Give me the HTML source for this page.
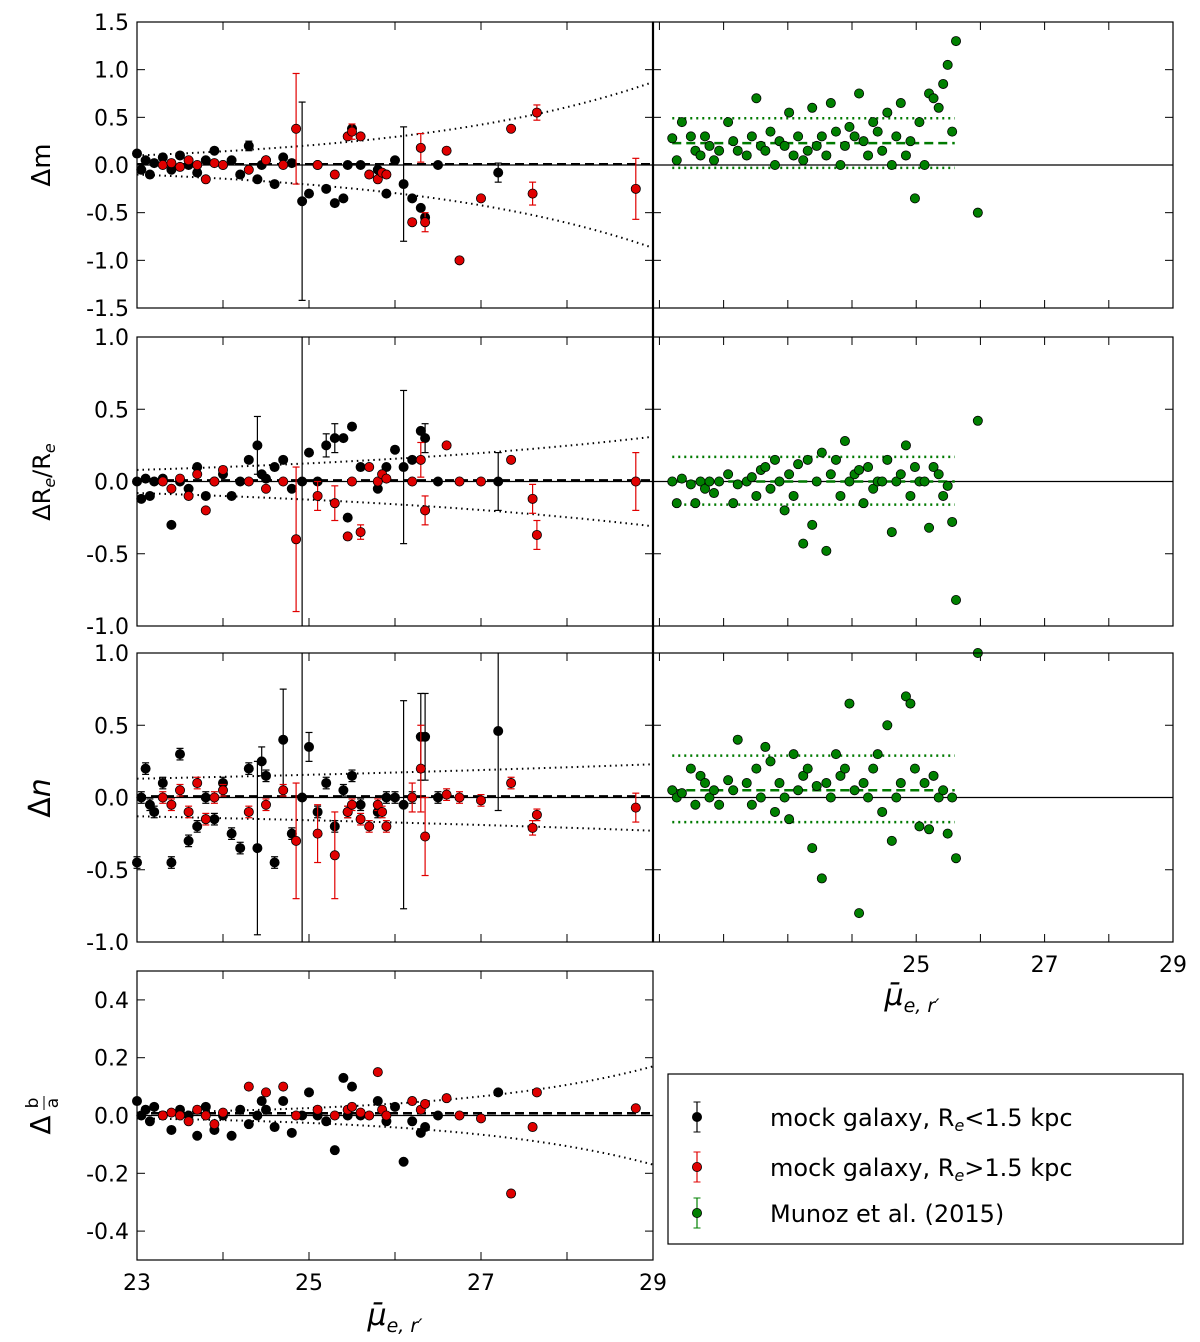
<!DOCTYPE html>
<html><head><meta charset="utf-8"><style>
html,body{margin:0;padding:0;background:#fff}
svg{display:block}
text{font-family:"DejaVu Sans","Liberation Sans",sans-serif}
</style></head><body>
<svg id="chart" width="1200" height="1342" viewBox="0 0 1200 1342" xmlns="http://www.w3.org/2000/svg"></svg>
<script>
// ---- data: black points (mock galaxy, Re<1.5 kpc) ----
const bx = [23.0,23.05,23.1,23.15,23.2,23.3,23.4,23.5,23.6,23.7,23.8,23.9,24.0,24.1,24.2,24.3,24.4,24.45,24.5,24.6,24.7,24.8,24.92,25.0,25.1,25.2,25.3,25.4,25.5,25.6,25.8,25.9,26.0,26.1,26.2,26.3,26.35,26.5,27.2,25.45];
const dmB = [0.12,-0.05,0.05,-0.1,0.02,0.08,-0.05,0.1,0.0,-0.08,0.05,0.15,0.0,0.05,-0.1,0.2,-0.15,0.0,0.05,-0.2,0.08,0.02,-0.38,-0.3,0.0,-0.25,-0.4,-0.35,0.38,0.0,-0.05,-0.3,0.05,-0.2,-0.35,-0.45,-0.55,0.0,-0.08,0.0];
const dmBe = [0.03,0.03,0.03,0.03,0.03,0.03,0.03,0.03,0.03,0.03,0.03,0.03,0.03,0.03,0.03,0.05,0.03,0.03,0.03,0.03,0.03,0.03,1.04,0.03,0.03,0.03,0.03,0.03,0.03,0.03,0.03,0.03,0.03,0.6,0.03,0.03,0.03,0.03,0.1,0.03];
const drB = [0.0,-0.12,0.02,-0.1,0.0,0.02,-0.3,0.0,-0.05,0.1,-0.1,0.0,0.05,-0.1,0.0,0.15,0.25,0.05,0.02,0.1,0.15,-0.05,0.0,0.2,0.0,0.25,0.3,0.3,0.38,0.1,-0.05,0.1,0.22,0.1,0.15,0.35,0.3,0.0,0.0,-0.25];
const drBe = [0.03,0.03,0.03,0.03,0.03,0.03,0.03,0.03,0.03,0.03,0.03,0.03,0.03,0.03,0.03,0.03,0.2,0.03,0.03,0.03,0.03,0.03,1.4,0.03,0.03,0.08,0.1,0.03,0.03,0.03,0.03,0.03,0.03,0.53,0.03,0.03,0.1,0.03,0.2,0.03];
const dnB = [-0.45,0.0,0.2,-0.05,-0.1,0.1,-0.45,0.3,-0.3,-0.2,0.0,-0.15,0.1,-0.25,-0.35,0.2,-0.35,0.25,0.15,-0.45,0.4,-0.25,0.0,0.35,-0.1,0.1,-0.2,0.05,0.15,-0.05,-0.1,0.0,0.0,-0.05,0.0,0.42,0.42,0.0,0.46,-0.1];
const dnBe = [0.04,0.04,0.04,0.04,0.04,0.04,0.04,0.04,0.04,0.04,0.04,0.04,0.04,0.04,0.04,0.04,0.6,0.1,0.04,0.04,0.35,0.04,1.4,0.1,0.04,0.04,0.04,0.04,0.04,0.04,0.04,0.04,0.04,0.72,0.04,0.3,0.3,0.04,0.55,0.04];
const dbB = [0.05,0.0,0.02,-0.02,0.03,0.0,-0.05,0.02,0.0,-0.07,0.03,-0.05,0.0,-0.07,0.02,-0.03,0.0,0.05,0.02,-0.04,0.05,-0.06,0.0,0.08,0.0,-0.02,-0.12,0.13,0.1,0.0,0.05,-0.02,0.03,-0.16,-0.02,-0.06,-0.04,0.0,0.08,0.0];
// ---- red points (mock galaxy, Re>1.5 kpc) ----
const rx = [23.3,23.4,23.5,23.6,23.7,23.8,23.9,24.0,24.3,24.5,24.7,24.85,25.1,25.3,25.45,25.5,25.6,25.7,25.8,25.85,25.9,26.2,26.3,26.35,26.6,26.75,27.0,27.35,27.6,27.65,28.8];
const dmR = [0.0,0.02,-0.02,0.05,0.0,-0.15,0.02,0.0,-0.05,0.05,0.0,0.38,0.0,-0.1,0.3,0.35,0.3,-0.1,-0.15,-0.08,-0.1,-0.6,0.18,-0.6,0.15,-1.0,-0.35,0.38,-0.3,0.55,-0.25];
const dmRe = [0.03,0.03,0.03,0.03,0.03,0.03,0.03,0.03,0.03,0.03,0.03,0.58,0.03,0.03,0.03,0.08,0.03,0.03,0.03,0.03,0.03,0.03,0.15,0.1,0.03,0.03,0.03,0.03,0.12,0.08,0.32];
const drR = [0.0,-0.05,0.02,-0.1,0.05,-0.2,0.0,0.08,0.0,-0.05,0.0,-0.4,-0.1,-0.15,-0.38,0.0,-0.35,0.1,0.0,0.05,0.02,0.0,0.15,-0.2,0.25,0.0,0.0,0.15,-0.12,-0.37,0.0];
const drRe = [0.03,0.03,0.03,0.03,0.03,0.03,0.03,0.03,0.03,0.03,0.03,0.5,0.1,0.12,0.03,0.03,0.05,0.03,0.03,0.03,0.03,0.03,0.12,0.1,0.03,0.03,0.03,0.03,0.1,0.1,0.2];
const dnR = [0.0,-0.05,0.05,-0.1,0.1,-0.15,0.0,0.05,-0.1,-0.05,0.05,-0.3,-0.25,-0.4,-0.1,-0.05,-0.15,-0.2,-0.05,-0.1,-0.2,0.0,0.2,-0.27,0.02,0.0,-0.02,0.1,-0.21,-0.12,-0.07];
const dnRe = [0.04,0.04,0.04,0.04,0.04,0.04,0.04,0.04,0.04,0.04,0.04,0.4,0.2,0.3,0.04,0.04,0.04,0.04,0.04,0.04,0.04,0.1,0.3,0.27,0.04,0.04,0.04,0.04,0.05,0.04,0.1];
const dbR = [0.0,0.01,0.0,-0.02,0.02,0.0,-0.03,0.01,0.1,0.08,0.1,0.0,0.02,0.0,0.02,0.03,0.01,0.0,0.15,0.02,0.0,0.05,0.02,0.04,0.06,0.0,-0.01,-0.27,-0.04,0.08,0.025];
// ---- green points (Munoz et al. 2015) ----
const gx = [21.2,21.27,21.35,21.49,21.56,21.64,21.71,21.78,21.85,21.93,22.07,22.15,22.22,22.36,22.44,22.51,22.58,22.65,22.73,22.8,22.87,22.95,23.02,23.09,23.16,23.24,23.31,23.38,23.45,23.53,23.6,23.67,23.75,23.82,23.89,23.96,24.04,24.11,24.18,24.25,24.33,24.4,24.47,24.55,24.62,24.69,24.76,24.84,24.91,24.98,25.05,25.13,25.2,25.27,25.35,25.42,25.49,25.56,25.96,25.62];
const dmG = [0.28,0.05,0.45,0.3,0.15,0.1,0.3,0.2,0.05,0.15,0.45,0.25,0.15,0.1,0.3,0.7,0.2,0.15,0.35,0.0,0.25,0.2,0.55,0.1,0.3,0.05,0.15,0.6,0.2,0.3,0.1,0.65,0.35,0.0,0.2,0.4,0.3,0.75,0.25,0.1,0.45,0.35,0.15,0.55,0.0,0.3,0.65,0.1,0.25,-0.35,0.45,0.0,0.75,0.7,0.6,0.85,1.05,0.35,-0.5,1.3];
const drG = [0.0,-0.15,0.02,-0.02,-0.15,0.0,-0.05,0.0,-0.08,0.0,0.05,-0.15,-0.02,0.0,0.03,-0.1,0.08,0.1,-0.05,0.15,0.0,-0.2,0.05,-0.1,0.12,-0.43,0.15,-0.3,0.0,0.2,-0.48,0.05,0.15,-0.1,0.28,0.0,0.05,0.08,-0.15,0.1,-0.05,0.0,0.0,0.15,-0.35,0.0,0.05,0.25,-0.1,0.1,0.0,0.0,-0.32,0.1,0.05,-0.1,-0.03,-0.28,0.42,-0.82];
const dnG = [0.05,0.0,0.03,0.2,-0.05,0.15,0.1,0.0,0.05,-0.05,0.12,0.05,0.4,0.1,-0.05,0.2,0.0,0.35,0.25,-0.1,0.1,0.0,-0.15,0.3,0.05,0.15,0.2,-0.35,0.08,-0.56,0.1,0.0,0.3,0.15,0.2,0.65,0.05,-0.8,0.1,0.0,0.2,0.3,-0.1,0.5,-0.3,0.0,0.1,0.7,0.65,0.2,-0.2,0.1,-0.22,0.15,0.0,0.05,-0.25,0.0,1.0,-0.42];
const gErr = 0.03;
// green summary lines [mean, lower, upper]
const gLinesM = [0.23,-0.03,0.49];
const gLinesR = [0.0,-0.16,0.17];
const gLinesN = [0.05,-0.17,0.29];
const gLineRange = [21.2,25.6];
// funnel envelopes [at x=23, at x=29]
const envM = [0.1,0.87];
const envR = [0.08,0.31];
const envN = [0.13,0.23];
const envB = [0.01,0.17];
const xTicksL = [23,25,27,29];
const xTicksR = [25,27,29];

const svg = document.getElementById('chart');
const NS = 'http://www.w3.org/2000/svg';
function mk(tag, attrs, parent){
  const e = document.createElementNS(NS, tag);
  for (const k in attrs) e.setAttribute(k, attrs[k]);
  (parent||svg).appendChild(e);
  return e;
}
function panel(x0,x1,xmin,xmax,y0,y1,ymin,ymax){
  return {x0,x1,y0,y1,sx:v=>x0+(v-xmin)/(xmax-xmin)*(x1-x0),sy:v=>y1-(v-ymin)/(ymax-ymin)*(y1-y0),xmin,xmax,ymin,ymax};
}
const L1 = panel(137,653,23,29,22,308,-1.5,1.5);
const L2 = panel(137,653,23,29,337,626,-1,1);
const L3 = panel(137,653,23,29,653,942,-1,1);
const L4 = panel(137,653,23,29,971,1260,-0.5,0.5);
const R1 = panel(653,1173,20.9,29,22,308,-1.5,1.5);
const R2 = panel(653,1173,20.9,29,337,626,-1,1);
const R3 = panel(653,1173,20.9,29,653,942,-1,1);

function frameAxes(p, name, yticks, ylabels, xticks, xlabels){
  const g = mk('g',{});
  
  
  for (let v=Math.ceil(p.xmin); v<=p.xmax; v++){
    const x=p.sx(v);
    mk('line',{x1:x,x2:x,y1:p.y1,y2:p.y1-8,stroke:'#000','stroke-width':1},g);
    mk('line',{x1:x,x2:x,y1:p.y0,y2:p.y0+8,stroke:'#000','stroke-width':1},g);
  }
  yticks.forEach(v=>{
    const y=p.sy(v);
    mk('line',{x1:p.x0,x2:p.x0+8,y1:y,y2:y,stroke:'#000','stroke-width':1},g);
    mk('line',{x1:p.x1,x2:p.x1-8,y1:y,y2:y,stroke:'#000','stroke-width':1},g);
    if (ylabels){
      const t = mk('text',{x:p.x0-8,y:y+8,'text-anchor':'end','font-size':22},g);
      t.textContent = v.toFixed(1);
      
      
    }
  });
  if (xlabels) xticks.forEach(v=>{
    const t = mk('text',{x:p.sx(v),y:p.y1+30,'text-anchor':'middle','font-size':22},g);
    t.textContent = v;
    
    
  });
  mk('line',{x1:p.x0,x2:p.x1,y1:p.sy(0),y2:p.sy(0),stroke:'#000','stroke-width':1.3},g);
  return g;
}
function frameBox(p){
  mk('rect',{x:p.x0,y:p.y0,width:p.x1-p.x0,height:p.y1-p.y0,fill:'none',stroke:'#000','stroke-width':1.2});
}
function envelope(p, env){
  const g = mk('g',{});
  
  
  let up='', dn='';
  for (let i=0;i<=60;i++){
    const x = 23 + i*0.1;
    const a = env[0]*Math.pow(env[1]/env[0], i/60);
    up += (i?'L':'M')+p.sx(x)+','+p.sy(a);
    dn += (i?'L':'M')+p.sx(x)+','+p.sy(-a);
  }
  mk('path',{d:up,fill:'none',stroke:'#000','stroke-width':2,'stroke-dasharray':'1.5,4'},g);
  mk('path',{d:dn,fill:'none',stroke:'#000','stroke-width':2,'stroke-dasharray':'1.5,4'},g);
  mk('line',{x1:p.x0,x2:p.x1,y1:p.sy(0.008),y2:p.sy(0.008),stroke:'#000','stroke-width':2.5,'stroke-dasharray':'9,5'},g);
}
function greenLines(p, vals){
  const g = mk('g',{});
  
  
  vals.forEach((v,i)=>{
    mk('line',{x1:p.sx(gLineRange[0]),x2:p.sx(gLineRange[1]),y1:p.sy(v),y2:p.sy(v),stroke:'#007a00','stroke-width':2.5,'stroke-dasharray':i?'2,4':'9,5'},g);
  });
}
function clip(p,v){return Math.max(p.ymin,Math.min(p.ymax,v));}
function points(p, xs, ys, es, color, ecolor, name){
  const g = mk('g',{});
  
  
  xs.forEach((xv,i)=>{
    const x=p.sx(xv), y=p.sy(ys[i]);
    const e = es===null ? 0 : (typeof es==='number'?es:es[i]);
    if (e>0.035){
      const ya=p.sy(clip(p,ys[i]+e)), yb=p.sy(clip(p,ys[i]-e));
      mk('line',{x1:x,x2:x,y1:ya,y2:yb,stroke:ecolor,'stroke-width':1.2},g);
      if (ys[i]+e<p.ymax) mk('line',{x1:x-3.5,x2:x+3.5,y1:ya,y2:ya,stroke:ecolor,'stroke-width':1.2},g);
      if (ys[i]-e>p.ymin) mk('line',{x1:x-3.5,x2:x+3.5,y1:yb,y2:yb,stroke:ecolor,'stroke-width':1.2},g);
    }
    if (ys[i]<p.ymin-0.02 || ys[i]>p.ymax+0.02) return;
    const c = mk('circle',{cx:x,cy:y,r:4.6,fill:color,stroke:'#000','stroke-width':0.8},g);
    
    
  });
}

frameAxes(L1,'panel-dm-left',[-1.5,-1,-0.5,0,0.5,1,1.5],true,xTicksL,false);
frameAxes(L2,'panel-dr-left',[-1,-0.5,0,0.5,1],true,xTicksL,false);
frameAxes(L3,'panel-dn-left',[-1,-0.5,0,0.5,1],true,xTicksL,false);
frameAxes(L4,'panel-dba-left',[-0.4,-0.2,0,0.2,0.4],true,xTicksL,true);
frameAxes(R1,'panel-dm-right',[-1.5,-1,-0.5,0,0.5,1,1.5],false,xTicksR,false);
frameAxes(R2,'panel-dr-right',[-1,-0.5,0,0.5,1],false,xTicksR,false);
frameAxes(R3,'panel-dn-right',[-1,-0.5,0,0.5,1],false,xTicksR,true);

envelope(L1,envM); envelope(L2,envR); envelope(L3,envN); envelope(L4,envB);
greenLines(R1,gLinesM); greenLines(R2,gLinesR); greenLines(R3,gLinesN);

points(L1,bx,dmB,dmBe,'#000','#000','black-points-dm');
points(L1,rx,dmR,dmRe,'#e00000','#e00000','red-points-dm');
points(L2,bx,drB,drBe,'#000','#000','black-points-dr');
points(L2,rx,drR,drRe,'#e00000','#e00000','red-points-dr');
points(L3,bx,dnB,dnBe,'#000','#000','black-points-dn');
points(L3,rx,dnR,dnRe,'#e00000','#e00000','red-points-dn');
points(L4,bx,dbB,null,'#000','#000','black-points-dba');
points(L4,rx,dbR,null,'#e00000','#e00000','red-points-dba');
points(R1,gx,dmG,gErr,'#008000','#008000','green-points-dm');
points(R2,gx,drG,gErr,'#008000','#008000','green-points-dr');
points(R3,gx,dnG,gErr,'#008000','#008000','green-points-dn');

[L1,L2,L3,L4,R1,R2,R3].forEach(frameBox);
mk('line',{x1:653,x2:653,y1:22,y2:942,stroke:'#000','stroke-width':2.2});
</script>
<svg style="position:absolute;left:0;top:0" width="1200" height="1342" xmlns="http://www.w3.org/2000/svg">
  <g font-family="'DejaVu Serif','Liberation Serif',serif" font-size="26">
    <text transform="translate(50,165) rotate(-90)" text-anchor="middle">Δm</text>
    <text transform="translate(50,482) rotate(-90)" text-anchor="middle" font-size="24">ΔR<tspan font-size="16" dy="5" font-style="italic">e</tspan><tspan dy="-5">/R</tspan><tspan font-size="16" dy="5" font-style="italic">e</tspan></text>
    <text transform="translate(50,798) rotate(-90)" text-anchor="middle" font-size="30">Δ<tspan font-style="italic">n</tspan></text>
    <g transform="translate(50,1115) rotate(-90)">
      <text x="-10" y="0" text-anchor="middle" font-size="28">Δ</text>
      <text x="12" y="-12" text-anchor="middle" font-size="17">b</text>
      <line x1="5" x2="19" y1="-6" y2="-6" stroke="#000" stroke-width="1"/>
      <text x="12" y="8" text-anchor="middle" font-size="17">a</text>
    </g>
    <text x="395" y="1325" text-anchor="middle" font-size="30" font-style="italic">μ̄<tspan font-size="19" dy="7">e, r′</tspan></text>
    <text x="912" y="1005" text-anchor="middle" font-size="30" font-style="italic">μ̄<tspan font-size="19" dy="7">e, r′</tspan></text>
  </g>
  <g font-family="'DejaVu Sans','Liberation Sans',sans-serif" font-size="24">
    <rect x="668" y="1074" width="515" height="170" fill="#fff" stroke="#000" stroke-width="1.2"/>
    <g>
      <line x1="697" x2="697" y1="1102" y2="1132" stroke="#000" stroke-width="1.2"/><line x1="693.5" x2="700.5" y1="1102" y2="1102" stroke="#000"/><line x1="693.5" x2="700.5" y1="1132" y2="1132" stroke="#000"/>
      <circle cx="697" cy="1117" r="4.6" fill="#000" stroke="#000" stroke-width="0.8"/>
      <text x="770" y="1126">mock galaxy, R<tspan font-size="16" dy="5" font-style="italic">e</tspan><tspan dy="-5">&lt;1.5 kpc</tspan></text>
    </g>
    <g>
      <line x1="697" x2="697" y1="1152" y2="1182" stroke="#e00000" stroke-width="1.2"/><line x1="693.5" x2="700.5" y1="1152" y2="1152" stroke="#e00000"/><line x1="693.5" x2="700.5" y1="1182" y2="1182" stroke="#e00000"/>
      <circle cx="697" cy="1167" r="4.6" fill="#e00000" stroke="#000" stroke-width="0.8"/>
      <text x="770" y="1176">mock galaxy, R<tspan font-size="16" dy="5" font-style="italic">e</tspan><tspan dy="-5">&gt;1.5 kpc</tspan></text>
    </g>
    <g>
      <line x1="697" x2="697" y1="1198" y2="1228" stroke="#008000" stroke-width="1.2"/><line x1="693.5" x2="700.5" y1="1198" y2="1198" stroke="#008000"/><line x1="693.5" x2="700.5" y1="1228" y2="1228" stroke="#008000"/>
      <circle cx="697" cy="1213" r="4.6" fill="#008000" stroke="#000" stroke-width="0.8"/>
      <text x="770" y="1222">Munoz et al. (2015)</text>
    </g>
  </g>
</svg>
</body></html>
